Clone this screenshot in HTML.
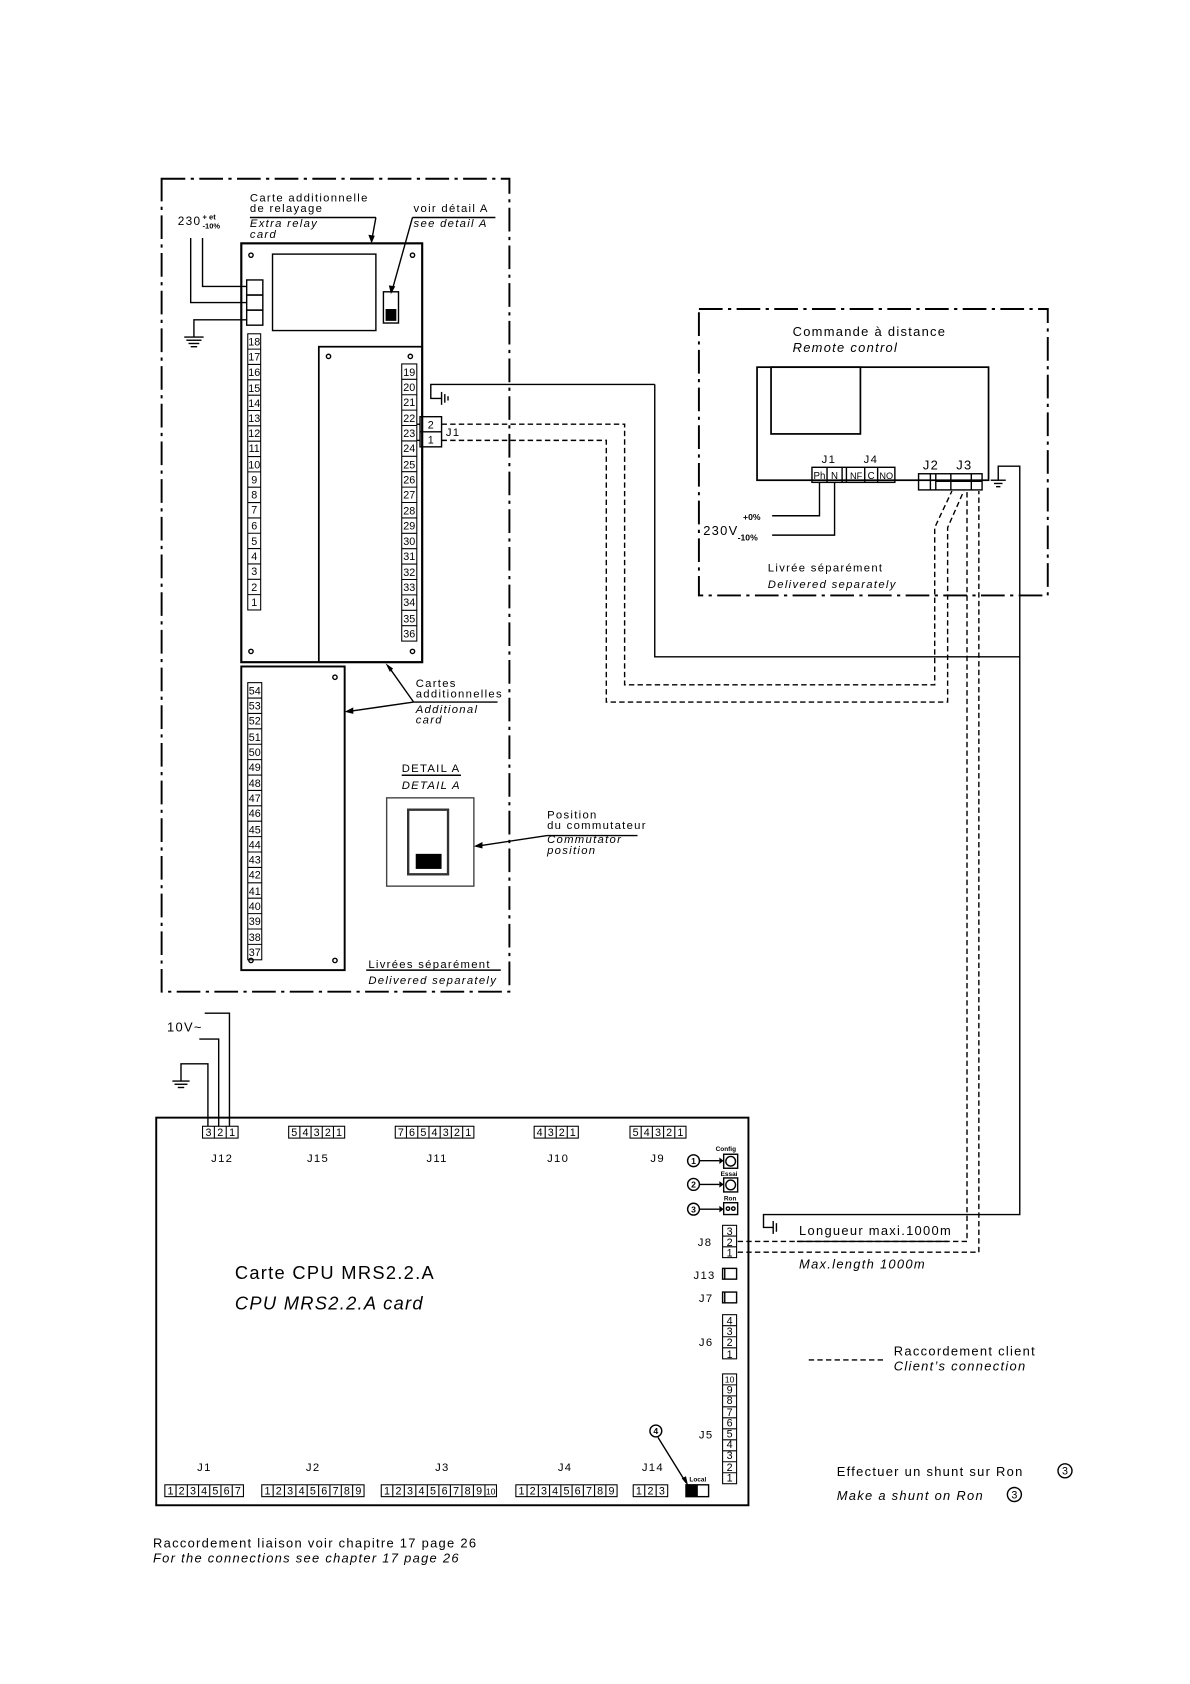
<!DOCTYPE html>
<html><head><meta charset="utf-8"><style>
html,body{margin:0;padding:0;background:#fff}
svg{display:block}
text{font-family:"Liberation Sans",sans-serif;fill:#000;letter-spacing:1.2px}
.s{font-size:10.5px}
.i{font-style:italic}
.n text{font-size:10px;text-anchor:middle;letter-spacing:0}
.t text{font-size:6px;font-weight:bold;letter-spacing:0;text-anchor:middle}
.t text.c{font-size:8px}
</style></head><body>
<svg width="1190" height="1684" viewBox="0 0 1105 1564" xmlns="http://www.w3.org/2000/svg">
<g fill="none" stroke="#000" stroke-width="1.3">
<rect x="150" y="166" width="323" height="755" stroke-width="1.8" stroke-dasharray="22,5,3,5"/>
<rect x="649" y="287" width="324" height="266" stroke-width="1.8" stroke-dasharray="22,5,3,5"/>
<rect x="224" y="226" width="168" height="389" stroke-width="2"/>
<rect x="253" y="236" width="96" height="71"/>
<rect x="356" y="271" width="14" height="29"/>
<rect x="296" y="322" width="96" height="293" stroke-width="1.6"/>
<rect x="229" y="260" width="15" height="14"/><rect x="229" y="274" width="15" height="14"/><rect x="229" y="288" width="15" height="14"/>
<circle cx="233" cy="237" r="2"/><circle cx="383" cy="237" r="2"/><circle cx="305" cy="331" r="2"/><circle cx="381" cy="331" r="2"/><circle cx="233" cy="605" r="2"/><circle cx="383" cy="605" r="2"/>
<polyline points="177,221 177,281 229,281"/>
<polyline points="188,221 188,266 229,266"/>
<polyline points="229,297 180,297 180,313"/>
<line x1="171" y1="313" x2="189" y2="313"/><line x1="173" y1="316" x2="187" y2="316"/><line x1="175" y1="319" x2="185" y2="319"/><line x1="177" y1="322" x2="183" y2="322"/>
<line x1="232" y1="202" x2="349" y2="202"/><line x1="349" y1="202" x2="345" y2="224"/>
<line x1="383" y1="202" x2="460" y2="202"/><line x1="383" y1="202" x2="364" y2="270"/>
<rect x="390" y="387" width="20" height="28"/><line x1="390" y1="401" x2="410" y2="401"/>
<line x1="387" y1="394" x2="390" y2="394"/><line x1="387" y1="409" x2="390" y2="409"/>
<polyline points="608,357 400,357 400,370 410,370"/>
<line x1="410" y1="364" x2="410" y2="376"/><line x1="413" y1="366" x2="413" y2="374"/><line x1="416" y1="368" x2="416" y2="372"/>
<polyline points="608,357 608,610 947,610"/>
<rect x="224" y="619" width="96" height="282" stroke-width="1.8"/>
<circle cx="311" cy="629" r="2"/><circle cx="233" cy="892" r="2"/><circle cx="311" cy="892" r="2"/>
<line x1="384" y1="652" x2="462" y2="652"/><line x1="384" y1="652" x2="322" y2="661"/><line x1="384" y1="652" x2="360" y2="618"/>
<line x1="373" y1="720" x2="428" y2="720"/>
<rect x="359" y="741" width="81" height="82" stroke="#444"/>
<rect x="379" y="752" width="37" height="60" stroke-width="2.2" stroke="#333"/>
<line x1="508" y1="776" x2="592" y2="776"/><line x1="508" y1="776" x2="442" y2="786"/>
<line x1="340" y1="901" x2="465" y2="901"/>
<rect x="703" y="341" width="215" height="105" stroke-width="1.6"/>
<rect x="716" y="341" width="83" height="62" stroke-width="1.6"/>
<rect x="754" y="434" width="77" height="14"/>
<line x1="768" y1="434" x2="768" y2="448"/><line x1="782" y1="434" x2="782" y2="448"/><line x1="786" y1="434" x2="786" y2="448"/><line x1="803" y1="434" x2="803" y2="448"/><line x1="815" y1="434" x2="815" y2="448"/>
<rect x="853" y="440" width="59" height="15"/>
<line x1="864" y1="440" x2="864" y2="455"/><line x1="869" y1="440" x2="869" y2="455"/><line x1="869" y1="447" x2="912" y2="447"/><line x1="883" y1="440" x2="883" y2="455"/><line x1="902" y1="440" x2="902" y2="455"/>
<polyline points="717,479 761,479 761,448"/>
<polyline points="717,497 775,497 775,448"/>
<line x1="920" y1="446" x2="934" y2="446"/><line x1="923" y1="449" x2="931" y2="449"/><line x1="925" y1="452" x2="929" y2="452"/>
<polyline points="927,446 927,433 947,433 947,1128 709,1128 709,1140 718,1140"/>
<line x1="718" y1="1134" x2="718" y2="1146"/><line x1="721" y1="1136" x2="721" y2="1144"/>
<g stroke-dasharray="5,3">
<polyline points="410,394 580,394 580,636 868,636 868,490 884,456"/>
<polyline points="410,409 563,409 563,652 880,652 880,490 895,456"/>
<polyline points="685,1153 898,1153 898,456"/>
<polyline points="685,1163 909,1163 909,456"/>
<line x1="751" y1="1263" x2="821" y2="1263"/>
</g>
<polyline points="190,941 213,941 213,1046"/>
<polyline points="185,965 203,965 203,1046"/>
<polyline points="193,1046 193,988 168,988 168,1004"/>
<line x1="160" y1="1004" x2="176" y2="1004"/><line x1="162" y1="1007" x2="174" y2="1007"/><line x1="165" y1="1010" x2="171" y2="1010"/>
<rect x="145" y="1038" width="550" height="360" stroke-width="1.8"/>
<line x1="740" y1="1153" x2="880" y2="1153"/>
<circle cx="644" cy="1078" r="5.5"/><line x1="650" y1="1078" x2="668" y2="1078"/><rect x="672" y="1072" width="13" height="13"/><circle cx="678.5" cy="1078.5" r="4.5"/>
<circle cx="644" cy="1100" r="5.5"/><line x1="650" y1="1100" x2="668" y2="1100"/><rect x="672" y="1094" width="13" height="13"/><circle cx="678.5" cy="1100.5" r="4.5"/>
<circle cx="644" cy="1123" r="5.5"/><line x1="650" y1="1123" x2="668" y2="1123"/><rect x="672" y="1117" width="13" height="11"/><circle cx="676" cy="1122.5" r="1.6"/><circle cx="681" cy="1122.5" r="1.6"/>
<rect x="671" y="1178" width="13" height="10"/><line x1="673" y1="1178" x2="673" y2="1188"/>
<rect x="671" y="1200" width="13" height="10"/><line x1="673" y1="1200" x2="673" y2="1210"/>
<circle cx="609" cy="1329" r="5.5"/><line x1="611" y1="1335" x2="637" y2="1377"/>
<rect x="637" y="1379" width="21" height="11"/>
<circle cx="989" cy="1366" r="6.5"/><circle cx="942" cy="1388" r="6.5"/>
</g>
<g fill="#000">
<rect x="358" y="287" width="10" height="11"/>
<rect x="386" y="793" width="24" height="14"/>
<rect x="637" y="1379" width="11" height="11"/>
<polygon points="668,1075 668,1081 672,1078"/><polygon points="668,1097 668,1103 672,1100"/><polygon points="668,1120 668,1126 672,1123"/>
<polygon points="345,226 342,218 348,219"/><polygon points="363,273 361,265 367,266"/><polygon points="320,661 328,657 328,663"/><polygon points="358,616 362,624 365,621"/><polygon points="440,786 448,782 448,788"/><polygon points="639,1380 633,1373 637,1371"/>
</g>
<g fill="none" stroke="#000" stroke-width="1">
<rect x="230" y="310" width="12" height="256.5"/>
<rect x="373" y="338" width="14" height="257.4"/>
<rect x="230" y="634" width="13" height="257.4"/>
</g>
<g stroke="#000" stroke-width="1">
<path d="M230 324.25h12M230 338.5h12M230 352.75h12M230 367h12M230 381.25h12M230 395.5h12M230 409.75h12M230 424h12M230 438.25h12M230 452.5h12M230 466.75h12M230 481h12M230 495.25h12M230 509.5h12M230 523.75h12M230 538h12M230 552.25h12"/>
<path d="M373 352.3h14M373 366.6h14M373 380.9h14M373 395.2h14M373 409.5h14M373 423.8h14M373 438.1h14M373 452.4h14M373 466.7h14M373 481h14M373 495.3h14M373 509.6h14M373 523.9h14M373 538.2h14M373 552.5h14M373 566.8h14M373 581.1h14"/>
<path d="M230 648.3h13M230 662.6h13M230 676.9h13M230 691.2h13M230 705.5h13M230 719.8h13M230 734.1h13M230 748.4h13M230 762.7h13M230 777h13M230 791.3h13M230 805.6h13M230 819.9h13M230 834.2h13M230 848.5h13M230 862.8h13M230 877.1h13"/>
</g>
<g class="n">
<text x="236" y="321">18</text><text x="236" y="335">17</text><text x="236" y="349">16</text><text x="236" y="364">15</text><text x="236" y="378">14</text><text x="236" y="392">13</text><text x="236" y="406">12</text><text x="236" y="420">11</text><text x="236" y="435">10</text><text x="236" y="449">9</text><text x="236" y="463">8</text><text x="236" y="477">7</text><text x="236" y="492">6</text><text x="236" y="506">5</text><text x="236" y="520">4</text><text x="236" y="534">3</text><text x="236" y="549">2</text><text x="236" y="563">1</text>
<text x="380" y="349">19</text><text x="380" y="363">20</text><text x="380" y="377">21</text><text x="380" y="392">22</text><text x="380" y="406">23</text><text x="380" y="420">24</text><text x="380" y="435">25</text><text x="380" y="449">26</text><text x="380" y="463">27</text><text x="380" y="478">28</text><text x="380" y="492">29</text><text x="380" y="506">30</text><text x="380" y="520">31</text><text x="380" y="535">32</text><text x="380" y="549">33</text><text x="380" y="563">34</text><text x="380" y="578">35</text><text x="380" y="592">36</text>
<text x="236.5" y="645">54</text><text x="236.5" y="659">53</text><text x="236.5" y="673">52</text><text x="236.5" y="688">51</text><text x="236.5" y="702">50</text><text x="236.5" y="716">49</text><text x="236.5" y="731">48</text><text x="236.5" y="745">47</text><text x="236.5" y="759">46</text><text x="236.5" y="774">45</text><text x="236.5" y="788">44</text><text x="236.5" y="802">43</text><text x="236.5" y="816">42</text><text x="236.5" y="831">41</text><text x="236.5" y="845">40</text><text x="236.5" y="859">39</text><text x="236.5" y="874">38</text><text x="236.5" y="888">37</text>
<text x="400" y="398">2</text><text x="400" y="412">1</text>
<text x="761" y="445" style="font-size:9px">Ph</text><text x="775" y="445" style="font-size:9px">N</text><text x="795" y="445" style="font-size:8.5px">NF</text><text x="809" y="445" style="font-size:9px">C</text><text x="823" y="445" style="font-size:8.5px">NO</text>
</g>
<g fill="none" stroke="#000" stroke-width="1">
<rect x="188" y="1046" width="33" height="11"/><rect x="268" y="1046" width="52" height="11"/><rect x="367" y="1046" width="73" height="11"/><rect x="496" y="1046" width="41" height="11"/><rect x="585" y="1046" width="52" height="11"/>
<rect x="153" y="1379" width="73" height="11"/><rect x="243" y="1379" width="95" height="11"/><rect x="354" y="1379" width="107" height="11"/><rect x="479" y="1379" width="94" height="11"/><rect x="588" y="1379" width="32" height="11"/>
<rect x="671" y="1138" width="13" height="30"/><rect x="671" y="1221" width="13" height="41"/><rect x="671" y="1276" width="13" height="102"/>
</g>
<g stroke="#000" stroke-width="1">
<path d="M199 1046v11M210 1046v11"/>
<path d="M278.4 1046v11M288.8 1046v11M299.2 1046v11M309.6 1046v11"/>
<path d="M377.4 1046v11M387.9 1046v11M398.3 1046v11M408.7 1046v11M419.1 1046v11M429.6 1046v11"/>
<path d="M506.25 1046v11M516.5 1046v11M526.75 1046v11"/>
<path d="M595.4 1046v11M605.8 1046v11M616.2 1046v11M626.6 1046v11"/>
<path d="M163.4 1379v11M173.9 1379v11M184.3 1379v11M194.7 1379v11M205.1 1379v11M215.6 1379v11"/>
<path d="M253.6 1379v11M264.1 1379v11M274.7 1379v11M285.2 1379v11M295.8 1379v11M306.3 1379v11M316.9 1379v11M327.4 1379v11"/>
<path d="M364.7 1379v11M375.4 1379v11M386.1 1379v11M396.8 1379v11M407.5 1379v11M418.2 1379v11M428.9 1379v11M439.6 1379v11M450.3 1379v11"/>
<path d="M489.4 1379v11M499.9 1379v11M510.3 1379v11M520.8 1379v11M531.2 1379v11M541.7 1379v11M552.1 1379v11M562.6 1379v11"/>
<path d="M598.7 1379v11M609.3 1379v11"/>
<path d="M671 1148h13M671 1158h13"/>
<path d="M671 1231.25h13M671 1241.5h13M671 1251.75h13"/>
<path d="M671 1286.2h13M671 1296.4h13M671 1306.6h13M671 1316.8h13M671 1327h13M671 1337.2h13M671 1347.4h13M671 1357.6h13M671 1367.8h13"/>
</g>
<g class="n" style="font-size:9.5px">
<text x="193.5" y="1055">3</text><text x="204.5" y="1055">2</text><text x="215.5" y="1055">1</text>
<text x="273.2" y="1055">5</text><text x="283.6" y="1055">4</text><text x="294" y="1055">3</text><text x="304.4" y="1055">2</text><text x="314.8" y="1055">1</text>
<text x="372.2" y="1055">7</text><text x="382.6" y="1055">6</text><text x="393.1" y="1055">5</text><text x="403.5" y="1055">4</text><text x="413.9" y="1055">3</text><text x="424.3" y="1055">2</text><text x="434.8" y="1055">1</text>
<text x="501.1" y="1055">4</text><text x="511.4" y="1055">3</text><text x="521.6" y="1055">2</text><text x="531.9" y="1055">1</text>
<text x="590.2" y="1055">5</text><text x="600.6" y="1055">4</text><text x="611" y="1055">3</text><text x="621.4" y="1055">2</text><text x="631.8" y="1055">1</text>
<text x="158.2" y="1388">1</text><text x="168.6" y="1388">2</text><text x="179.1" y="1388">3</text><text x="189.5" y="1388">4</text><text x="199.9" y="1388">5</text><text x="210.4" y="1388">6</text><text x="220.8" y="1388">7</text>
<text x="248.3" y="1388">1</text><text x="258.8" y="1388">2</text><text x="269.4" y="1388">3</text><text x="280" y="1388">4</text><text x="290.5" y="1388">5</text><text x="301" y="1388">6</text><text x="311.6" y="1388">7</text><text x="322.1" y="1388">8</text><text x="332.7" y="1388">9</text>
<text x="359.3" y="1388">1</text><text x="370" y="1388">2</text><text x="380.7" y="1388">3</text><text x="391.4" y="1388">4</text><text x="402.1" y="1388">5</text><text x="412.8" y="1388">6</text><text x="423.5" y="1388">7</text><text x="434.2" y="1388">8</text><text x="444.9" y="1388">9</text><text x="455.6" y="1388" style="font-size:8px">10</text>
<text x="484.2" y="1388">1</text><text x="494.6" y="1388">2</text><text x="505.1" y="1388">3</text><text x="515.5" y="1388">4</text><text x="526" y="1388">5</text><text x="536.4" y="1388">6</text><text x="546.9" y="1388">7</text><text x="557.3" y="1388">8</text><text x="567.8" y="1388">9</text>
<text x="593.3" y="1388">1</text><text x="604" y="1388">2</text><text x="614.6" y="1388">3</text>
<text x="677.5" y="1147">3</text><text x="677.5" y="1157">2</text><text x="677.5" y="1167">1</text>
<text x="677.5" y="1230">4</text><text x="677.5" y="1240">3</text><text x="677.5" y="1250">2</text><text x="677.5" y="1261">1</text>
<text x="677.5" y="1284" style="font-size:8px">10</text><text x="677.5" y="1294">9</text><text x="677.5" y="1304">8</text><text x="677.5" y="1315">7</text><text x="677.5" y="1325">6</text><text x="677.5" y="1335">5</text><text x="677.5" y="1345">4</text><text x="677.5" y="1355">3</text><text x="677.5" y="1366">2</text><text x="677.5" y="1376">1</text>
</g>
<g class="t">
<text class="c" x="644" y="1081">1</text><text class="c" x="644" y="1103">2</text><text class="c" x="644" y="1126">3</text><text class="c" x="609" y="1332">4</text>
<text x="989" y="1369.5" style="font-size:10px;font-weight:normal">3</text><text x="942" y="1391.5" style="font-size:10px;font-weight:normal">3</text>
<text x="674" y="1069">Config</text><text x="677" y="1092">Essai</text><text x="678" y="1115">Ron</text><text x="648" y="1376">Local</text>
</g>
<g class="s">
<text x="165" y="209" style="font-size:11px">230</text><text x="188" y="204" style="font-size:7px;font-weight:bold;letter-spacing:0">+ et</text><text x="188" y="212" style="font-size:7px;font-weight:bold;letter-spacing:0">-10%</text>
<text x="232" y="187">Carte additionnelle</text><text x="232" y="197">de relayage</text>
<text x="232" y="211" class="s i">Extra relay</text><text x="232" y="221" class="s i">card</text>
<text x="384" y="197">voir détail A</text><text x="384" y="211" class="s i">see detail A</text>
<text x="414" y="405">J1</text>
<text x="386" y="638">Cartes</text><text x="386" y="648">additionnelles</text>
<text x="386" y="662" class="s i">Additional</text><text x="386" y="672" class="s i">card</text>
<text x="373" y="717">DETAIL A</text><text x="373" y="733" class="s i">DETAIL A</text>
<text x="508" y="760">Position</text><text x="508" y="770">du commutateur</text>
<text x="508" y="783" class="s i">Commutator</text><text x="508" y="793" class="s i">position</text>
<text x="342" y="899">Livrées séparément</text><text x="342" y="914" class="s i">Delivered separately</text>
<text x="736" y="312" style="font-size:12px">Commande à distance</text><text x="736" y="327" class="i" style="font-size:12px">Remote control</text>
<text x="763" y="430">J1</text><text x="802" y="430">J4</text>
<text x="857" y="436" style="font-size:12px">J2</text><text x="888" y="436" style="font-size:12px">J3</text>
<text x="653" y="497" style="font-size:12px">230V</text><text x="690" y="483" style="font-size:8px;font-weight:bold;letter-spacing:0">+0%</text><text x="685" y="502" style="font-size:8px;font-weight:bold;letter-spacing:0">-10%</text>
<text x="713" y="531">Livrée séparément</text><text x="713" y="546" class="s i">Delivered separately</text>
<text x="155" y="958" style="font-size:12px">10V~</text>
<text x="196" y="1079">J12</text><text x="285" y="1079">J15</text><text x="396" y="1079">J11</text><text x="508" y="1079">J10</text><text x="604" y="1079">J9</text>
<text x="648" y="1157">J8</text><text x="644" y="1188">J13</text><text x="649" y="1209">J7</text><text x="649" y="1250">J6</text><text x="649" y="1336">J5</text>
<text x="183" y="1366">J1</text><text x="284" y="1366">J2</text><text x="404" y="1366">J3</text><text x="518" y="1366">J4</text><text x="596" y="1366">J14</text>
<text x="218" y="1188" style="font-size:17px">Carte CPU MRS2.2.A</text>
<text x="218" y="1216" class="i" style="font-size:17px">CPU MRS2.2.A card</text>
<text x="742" y="1147" style="font-size:12px">Longueur maxi.1000m</text>
<text x="742" y="1178" class="s i" style="font-size:12px">Max.length 1000m</text>
<text x="830" y="1259" style="font-size:12px">Raccordement client</text>
<text x="830" y="1273" class="i" style="font-size:12px">Client’s connection</text>
<text x="777" y="1371" style="font-size:12px">Effectuer un shunt sur Ron</text>
<text x="777" y="1393" class="i" style="font-size:12px">Make a shunt on Ron</text>
<text x="142" y="1437" style="font-size:12px">Raccordement liaison voir chapitre 17 page 26</text>
<text x="142" y="1451" class="i" style="font-size:12px">For the connections see chapter 17 page 26</text>
</g>
</svg>
</body></html>
